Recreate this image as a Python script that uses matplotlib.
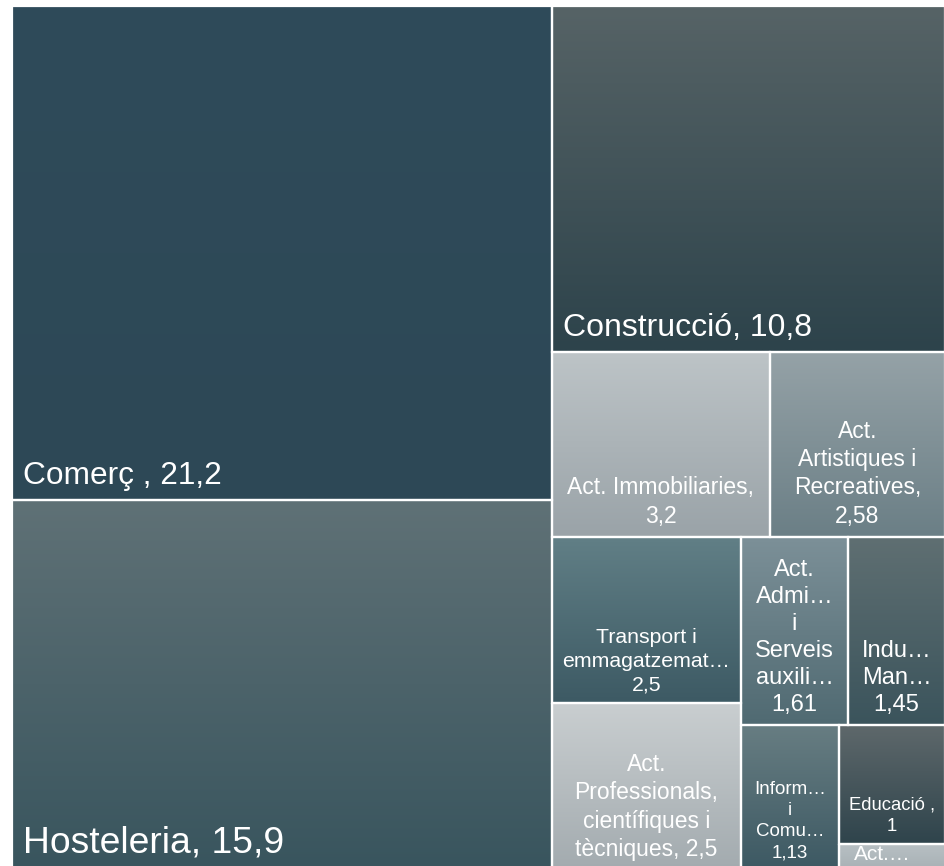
import numpy as np
import matplotlib
matplotlib.use("Agg")
import matplotlib.pyplot as plt
from matplotlib.patches import Rectangle
from matplotlib.colors import to_rgb

plt.rcParams['font.family'] = ['Liberation Sans', 'DejaVu Sans']

# ---- data ----
name_parts = [
    "Comerç , ",
    "Hosteleria, ",
    "Construcció, ",
    "Act. Immobiliaries,\n",
    "Act.\nArtistiques i\nRecreatives,\n",
    "Transport i\nemmagatzemat…\n",
    "Act.\nProfessionals,\ncientífiques i\ntècniques, ",
    "Act.\nAdmi…\ni\nServeis\nauxili…\n",
    "Indu…\nMan…\n",
    "Inform…\ni\nComu…\n",
    "Educació ,\n",
    "Act.…",
]
values = [21.2, 15.9, 10.8, 3.2, 2.58, 2.5, 2.5, 1.61, 1.45, 1.13, 1.0, 0.22]
show_value = [True] * 11 + [False]

# ---- styles ----
top_colors = ["#2F4B5A", "#5F7176", "#566366", "#BDC4C7", "#95A2A7", "#617F86",
              "#C9CED0", "#7C9098", "#5F6F72", "#677D82", "#5E686B", "#B8C0C4"]
bot_colors = ["#2D4856", "#39555E", "#2D434B", "#9AA3A8", "#6B7F86", "#3D5A64",
              "#A3ABAF", "#506A72", "#3B545C", "#3D5963", "#2F444C", "#A8B1B5"]
font_sizes = [22.8, 26.8, 23, 16.5, 16.5, 15.3, 16.5, 17, 17, 13.5, 13.3, 15]
left_aligned = [True, True, True] + [False] * 9

W, H = 933.0, 864.0


def layout_row(areas, x, y, w, h):
    covered = sum(areas)
    rects = []
    if w >= h:
        width = covered / h
        yy = y
        for a in areas:
            hh = a / width
            rects.append((x, yy, width, hh))
            yy += hh
        return rects, (x + width, y, w - width, h)
    else:
        height = covered / w
        xx = x
        for a in areas:
            ww = a / height
            rects.append((xx, y, ww, height))
            xx += ww
        return rects, (x, y + height, w, h - height)


def worst(row, side):
    s = sum(row)
    return max(max(side * side * r / (s * s), s * s / (side * side * r)) for r in row)


def squarify(vals, x, y, w, h):
    total = sum(vals)
    areas = [v * w * h / total for v in vals]
    rects = []
    i = 0
    while i < len(areas):
        side = min(w, h)
        row = [areas[i]]
        i += 1
        while i < len(areas) and worst(row + [areas[i]], side) <= worst(row, side):
            row.append(areas[i])
            i += 1
        r, (x, y, w, h) = layout_row(row, x, y, w, h)
        rects += r
    return rects


fig = plt.figure(figsize=(9.45, 8.66), dpi=100)
ax = fig.add_axes([12 / 945, (866 - 870) / 866, W / 945, H / 866])
ax.set_xlim(0, W)
ax.set_ylim(H, 0)
ax.axis('off')

rects = squarify(values, 0, 0, W, H)
n = 64
t = np.linspace(0, 1, n)[:, None]
for i, (x, y, w, h) in enumerate(rects):
    c0 = np.array(to_rgb(top_colors[i]))
    c1 = np.array(to_rgb(bot_colors[i]))
    grad = (c0[None, :] * (1 - t) + c1[None, :] * t)[:, None, :]
    ax.imshow(grad, extent=[x, x + w, y + h, y], aspect='auto',
              interpolation='bilinear', zorder=1)
    ax.add_patch(Rectangle((x, y), w, h, facecolor='none', edgecolor='white',
                           lw=1.6, zorder=2))
    label = name_parts[i]
    if show_value[i]:
        label += f"{values[i]:g}".replace('.', ',')
    if i == len(rects) - 1:
        ax.text(x + w / 2 - 10, y + 1, label, color='white', fontsize=font_sizes[i],
                ha='center', va='top', zorder=3)
    elif left_aligned[i]:
        ax.text(x + 11, y + h - 9, label, color='white', fontsize=font_sizes[i],
                ha='left', va='bottom', zorder=3)
    else:
        ax.text(x + w / 2, y + h - 9, label, color='white', fontsize=font_sizes[i],
                ha='center', va='bottom', multialignment='center',
                linespacing=1.3, zorder=3)

ax.set_xlim(0, W)
ax.set_ylim(H, 0)
fig.savefig("out.png", dpi=100)
